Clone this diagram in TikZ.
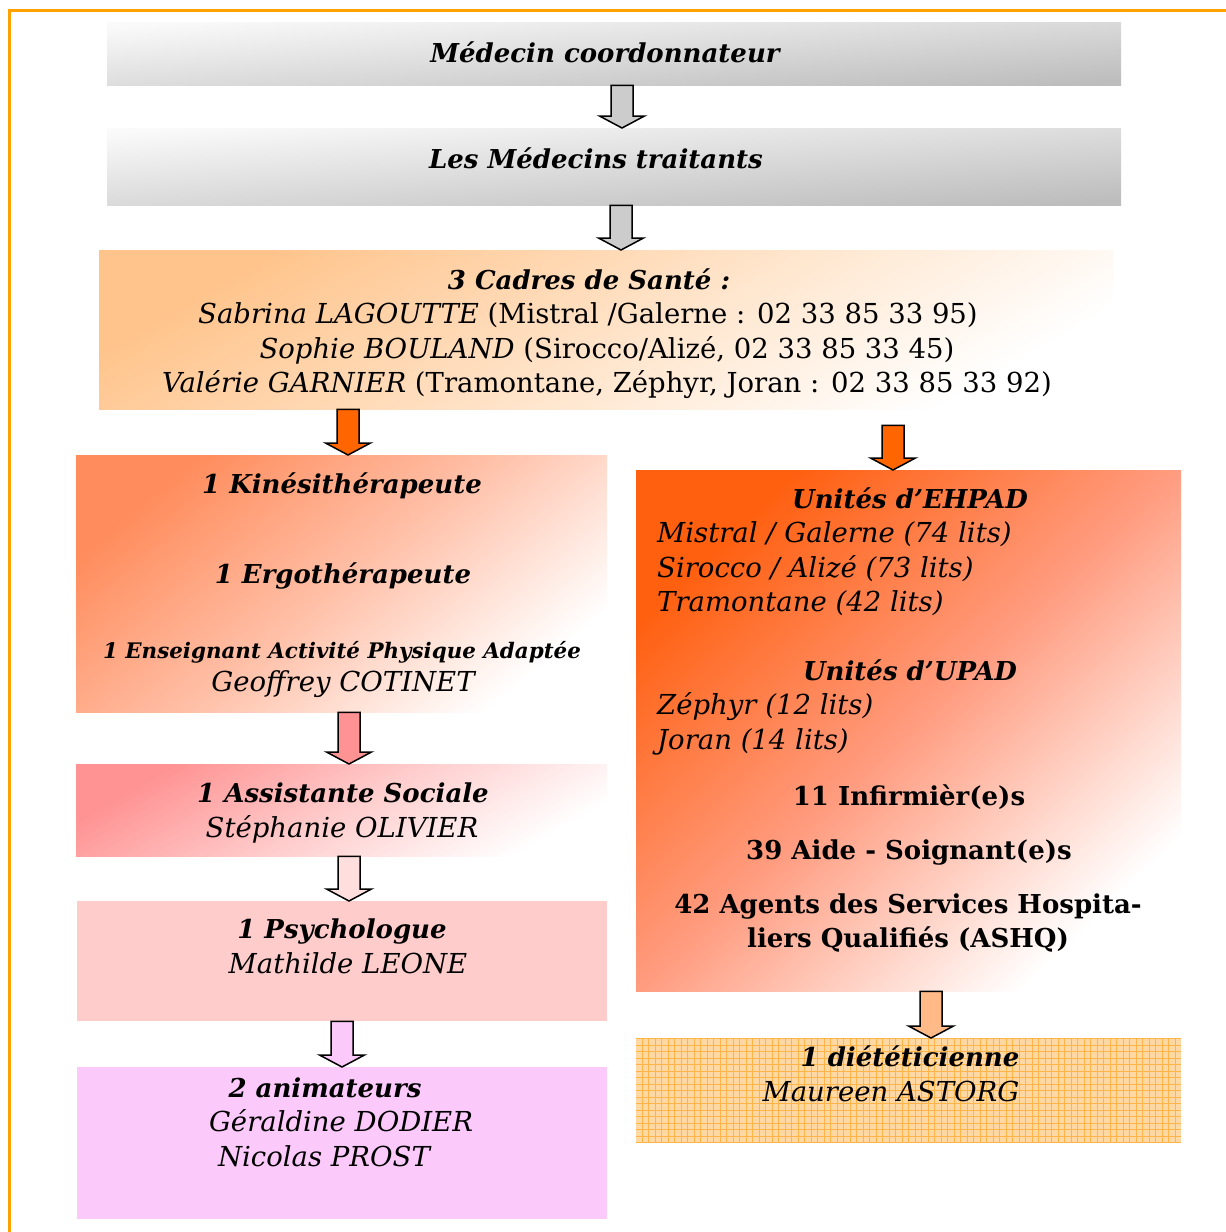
\documentclass[tikz,border=0pt]{standalone}
\usepackage{fontspec}
\setmainfont{DejaVu Serif}
\usetikzlibrary{calc}

\definecolor{cadreorange}{RGB}{255,162,0}
\definecolor{gris}{RGB}{204,204,204}
\definecolor{orangevif}{RGB}{255,102,0}
\definecolor{peche}{RGB}{255,196,140}
\definecolor{pechemi}{RGB}{255,226,198}
\definecolor{saumon}{RGB}{255,140,92}
\definecolor{saumonmi}{RGB}{255,192,168}
\definecolor{orangeunite}{RGB}{255,96,16}
\definecolor{orangemi}{RGB}{255,156,128}
\definecolor{rosevif}{RGB}{255,146,146}
\definecolor{rosemi}{RGB}{255,204,204}
\definecolor{rosepale}{RGB}{255,204,204}
\definecolor{rosetres}{RGB}{255,222,222}
\definecolor{mauve}{RGB}{251,202,251}
\definecolor{dietfond}{RGB}{255,216,164}
\definecolor{dietgrille}{RGB}{255,180,74}
\definecolor{dietfleche}{RGB}{255,186,136}

\newcommand{\grandbi}{\fontsize{26}{30}\selectfont\bfseries\itshape}
\newcommand{\grandi}{\fontsize{27.5}{30}\selectfont\itshape}
\newcommand{\grandr}{\fontsize{27.5}{30}\selectfont}
\newcommand{\grandb}{\fontsize{26}{30}\selectfont\bfseries}
\newcommand{\petitbi}{\fontsize{21.4}{24}\selectfont\bfseries\itshape}

\begin{document}
\begin{tikzpicture}[x=1pt, y=-1pt,
	boite/.style 2 args={anchor=north west, inner sep=0pt, minimum width=#1, minimum height=#2},
	degrade/.style n args={3}{top color=#1, bottom color=white, middle color=#2, shading angle=#3},
	txt/.style={anchor=base, inner sep=0pt},
	flecheb/.style={draw=black, line width=1.5pt, line join=miter, to path={
		let \p1=(\tikztostart), \p2=(\tikztotarget) in
		(\x1-11pt,\y1) -- (\x1+11pt,\y1) -- (\x1+11pt,\y2+12pt) -- (\x1+22.5pt,\y2+12pt)
		-- (\x1,\y2) -- (\x1-22.5pt,\y2+12pt) -- (\x1-11pt,\y2+12pt) -- cycle}}]
	\useasboundingbox (0,0) rectangle (1226,1232);
	\clip (0,0) rectangle (1226,1232);
	\draw[cadreorange, line width=3pt] (9,10) rectangle (1260,1260);
	% boxes
	\node[boite={1014pt}{63pt}, top color=black!2, bottom color=black!26, shading angle=4] (med) at (107,22) {};
	\node[boite={1014pt}{77pt}, top color=black!2, bottom color=black!26, shading angle=4] (trait) at (107,128) {};
	\node[boite={1014pt}{159pt}, degrade={peche}{pechemi}{30}] (cadres) at (99,250) {};
	\node[boite={531pt}{257pt}, degrade={saumon}{saumonmi}{40}] (kine) at (76,455) {};
	\node[boite={545pt}{521pt}, degrade={orangeunite}{orangemi}{44}] (unites) at (636,470) {};
	\node[boite={531pt}{92pt}, degrade={rosevif}{rosemi}{30}] (social) at (76,764) {};
	\node[boite={530pt}{120pt}, fill=rosepale] (psy) at (77,901) {};
	\node[boite={530pt}{152pt}, fill=mauve] (anim) at (77,1067) {};
	\node[boite={545pt}{105pt}, fill=dietfond, path picture={
		\draw[dietgrille, line width=0.7pt, step=6.5pt] (path picture bounding box.south west) grid (path picture bounding box.north east);}] (diet) at (636,1038) {};
	% arrows
	\draw[flecheb, fill=gris] (622,0 |- med.south) to (622,0 |- trait.north);
	\draw[flecheb, fill=gris] (621,0 |- trait.south) to (621,0 |- cadres.north);
	\draw[flecheb, fill=orangevif] (348,0 |- cadres.south) to (348,0 |- kine.north);
	\draw[flecheb, fill=orangevif] ($(893,0 |- cadres.south)+(0,16)$) to (893,0 |- unites.north);
	\draw[flecheb, fill=rosevif] (349,0 |- kine.south) to (349,0 |- social.north);
	\draw[flecheb, fill=rosetres] (349,0 |- social.south) to (349,0 |- psy.north);
	\draw[flecheb, fill=mauve] (342,0 |- psy.south) to (342,0 |- anim.north);
	\draw[flecheb, fill=dietfleche] (931,0 |- unites.south) to (931,0 |- diet.north);
	% texts
	\node[txt, font=\grandbi] (tmed) at (605,62) {Médecin coordonnateur};
	\node[txt, font=\grandbi] (ttrait) at (596,168) {Les Médecins traitants};
	\node[txt, font=\grandbi] (tcad) at (589,289) {3 Cadres de Santé :};
	\node[txt, font=\grandr] (tcad1) at (588,323) {{\itshape Sabrina LAGOUTTE} (Mistral /Galerne : 02 33 85 33 95)};
	\node[txt, font=\grandr] (tcad2) at (607,358) {{\itshape Sophie BOULAND} (Sirocco/Alizé, 02 33 85 33 45)};
	\node[txt, font=\grandr] (tcad3) at (607,392) {{\itshape Valérie GARNIER} (Tramontane, Zéphyr, Joran : 02 33 85 33 92)};
	\node[txt, font=\grandbi] (tkine) at (342,493) {1 Kinésithérapeute};
	\node[txt, font=\grandbi] (tergo) at (343,583) {1 Ergothérapeute};
	\node[txt, font=\petitbi] (tapa) at (342,658) {1 Enseignant Activité Physique Adaptée};
	\node[txt, font=\grandi] (tapa1) at (343,691) {Geoffrey COTINET};
	\node[txt, font=\grandbi] (tehpad) at (910,508) {Unités d’EHPAD};
	\node[txt, font=\grandi, anchor=base west] (tehpad1) at (657,542) {Mistral / Galerne (74 lits)};
	\node[txt, font=\grandi, anchor=base west] (tehpad2) at (657,577) {Sirocco / Alizé (73 lits)};
	\node[txt, font=\grandi, anchor=base west] (tehpad3) at (657,611) {Tramontane (42 lits)};
	\node[txt, font=\grandbi] (tupad) at (910,680) {Unités d’UPAD};
	\node[txt, font=\grandi, anchor=base west] (tupad1) at (657,714) {Zéphyr (12 lits)};
	\node[txt, font=\grandi, anchor=base west] (tupad2) at (657,749) {Joran (14 lits)};
	\node[txt, font=\grandb] (tide) at (909,805) {11 Infirmièr(e)s};
	\node[txt, font=\grandb] (tas) at (909,859) {39 Aide - Soignant(e)s};
	\node[txt, font=\grandb] (tash1) at (908,913) {42 Agents des Services Hospita-};
	\node[txt, font=\grandb] (tash2) at (908,947) {liers Qualifiés (ASHQ)};
	\node[txt, font=\grandbi] (tsoc) at (343,802) {1 Assistante Sociale};
	\node[txt, font=\grandi] (tsoc1) at (342,837) {Stéphanie OLIVIER};
	\node[txt, font=\grandbi] (tpsy) at (342,938) {1 Psychologue};
	\node[txt, font=\grandi] (tpsy1) at (348,973) {Mathilde LEONE};
	\node[txt, font=\grandbi] (tanim) at (325,1097) {2 animateurs};
	\node[txt, font=\grandi] (tanim1) at (341,1131) {Géraldine DODIER};
	\node[txt, font=\grandi] (tanim2) at (324,1166) {Nicolas PROST};
	\node[txt, font=\grandbi] (tdiet) at (910,1066) {1 diététicienne};
	\node[txt, font=\grandi] (tdiet1) at (891,1101) {Maureen ASTORG};
\end{tikzpicture}
\end{document}
